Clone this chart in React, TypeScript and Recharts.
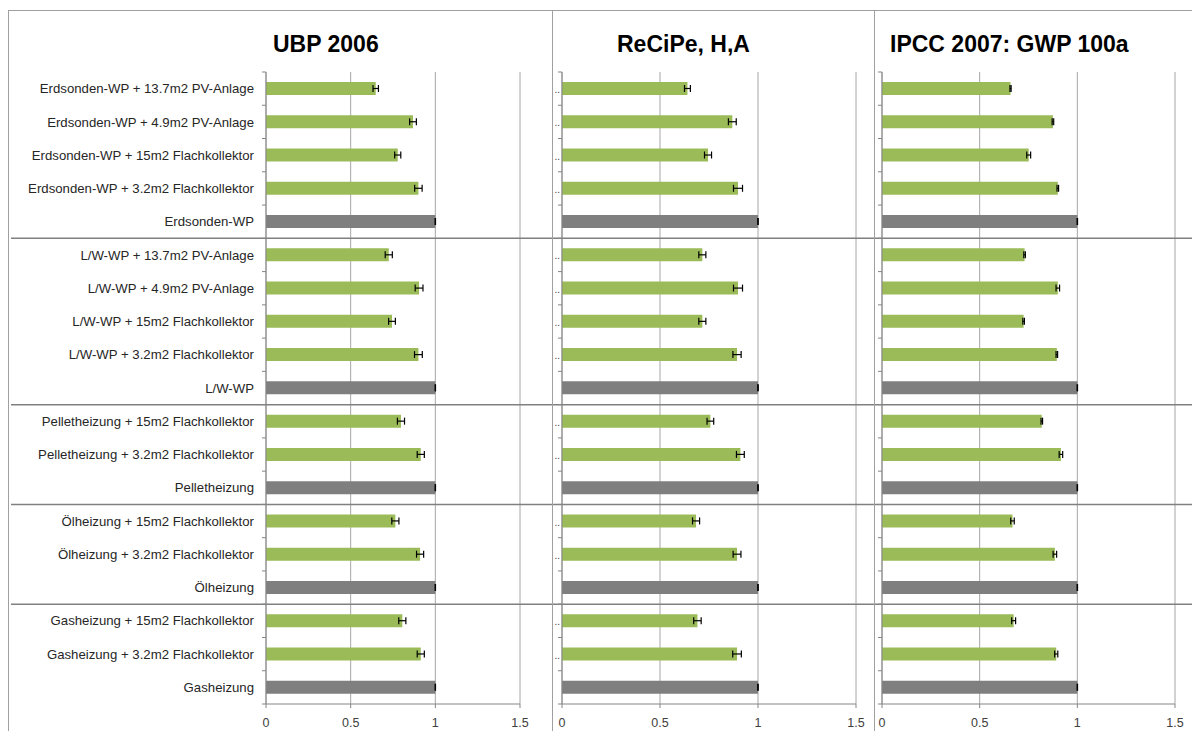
import React from 'react';
import { BarChart, Bar, XAxis, YAxis, CartesianGrid, Cell, ErrorBar, ReferenceLine } from 'recharts';

const categories = [
  'Erdsonden-WP + 13.7m2 PV-Anlage',
  'Erdsonden-WP + 4.9m2 PV-Anlage',
  'Erdsonden-WP + 15m2 Flachkollektor',
  'Erdsonden-WP + 3.2m2 Flachkollektor',
  'Erdsonden-WP',
  'L/W-WP + 13.7m2 PV-Anlage',
  'L/W-WP + 4.9m2 PV-Anlage',
  'L/W-WP + 15m2 Flachkollektor',
  'L/W-WP + 3.2m2 Flachkollektor',
  'L/W-WP',
  'Pelletheizung + 15m2 Flachkollektor',
  'Pelletheizung + 3.2m2 Flachkollektor',
  'Pelletheizung',
  'Ölheizung + 15m2 Flachkollektor',
  'Ölheizung + 3.2m2 Flachkollektor',
  'Ölheizung',
  'Gasheizung + 15m2 Flachkollektor',
  'Gasheizung + 3.2m2 Flachkollektor',
  'Gasheizung',
];

const ubp = [0.648, 0.868, 0.778, 0.9, 1, 0.725, 0.904, 0.744, 0.9, 1, 0.797, 0.914, 1, 0.764, 0.91, 1, 0.805, 0.914, 1];
const ubpErr = [0.016, 0.02, 0.018, 0.022, 0.001, 0.021, 0.023, 0.02, 0.023, 0.001, 0.021, 0.021, 0.001, 0.021, 0.021, 0.001, 0.021, 0.021, 0.001];

const recipe = [0.64, 0.869, 0.745, 0.898, 1, 0.716, 0.898, 0.716, 0.893, 1, 0.757, 0.91, 1, 0.684, 0.893, 1, 0.691, 0.893, 1];
const recipeErr = [0.015, 0.02, 0.018, 0.023, 0.001, 0.018, 0.023, 0.018, 0.021, 0.001, 0.017, 0.02, 0.001, 0.018, 0.02, 0.001, 0.019, 0.022, 0.001];

const ipcc = [0.658, 0.875, 0.751, 0.9, 1, 0.73, 0.9, 0.725, 0.895, 1, 0.818, 0.916, 1, 0.668, 0.885, 1, 0.674, 0.892, 1];
const ipccErr = [0.003, 0.004, 0.01, 0.004, 0.001, 0.004, 0.009, 0.004, 0.004, 0.001, 0.004, 0.009, 0.001, 0.009, 0.009, 0.001, 0.01, 0.008, 0.001];

// last row of each system group
const groupEnds = ['Erdsonden-WP', 'L/W-WP', 'Pelletheizung', 'Ölheizung'];
const xTicks = [0, 0.5, 1, 1.5];

const GREEN = '#9BBB59';
const GREY = '#7F7F7F';
const AXIS = '#868686';
const FONT = '"Liberation Sans", Arial, sans-serif';

const CH = 720;
const TOP = 61;
const XAXIS_H = 24;
const BOTTOM = 3;
const BAND = (CH - TOP - XAXIS_H - BOTTOM) / categories.length;

const CatTick = (props: any) => {
  const { x, y, payload, index, mode } = props;
  const label: string = String(payload?.value ?? '');
  const last = index === categories.length - 1;
  return (
    <g>
      <line x1={x - 4} x2={x} y1={y - BAND / 2} y2={y - BAND / 2} stroke={AXIS} />
      {last && <line x1={x - 4} x2={x} y1={y + BAND / 2} y2={y + BAND / 2} stroke={AXIS} />}
      {mode === 'full' && (
        <text x={x - 12} y={y} dy="0.35em" textAnchor="end" fontSize={13.2} fill="#262626" fontFamily={FONT}>
          {label}
        </text>
      )}
      {mode === 'dots' && label.includes('+') && (
        <text x={x - 2} y={y} dy="0.45em" textAnchor="end" fontSize={10} fill="#404040" fontFamily={FONT}>
          ..
        </text>
      )}
    </g>
  );
};

type PanelProps = {
  title: string;
  titleLeft: number;
  left: number;
  width: number;
  axisW: number;
  right: number;
  values: number[];
  errs: number[];
  mode: 'full' | 'dots' | 'none';
};

const Panel = ({ title, titleLeft, left, width, axisW, right, values, errs, mode }: PanelProps) => {
  const data = categories.map((name, i) => ({ name, value: values[i], err: errs[i] }));
  const sepFrom = left < 100 ? 2 : 0;
  return (
    <>
      <div
        style={{
          position: 'absolute',
          left: left - 9,
          top: 2,
          width,
          height: CH,
          borderLeft: '1px solid #A0A0A0',
          borderTop: '1px solid #A0A0A0',
          background: '#fff',
        }}
      >
        <BarChart
          width={width}
          height={CH}
          data={data}
          layout="vertical"
          barSize={13}
          margin={{ top: TOP, right, bottom: BOTTOM, left: 0 }}
        >
          <CartesianGrid horizontal={false} stroke="#A6A6A6" />
          <XAxis
            type="number"
            domain={[0, 1.5]}
            ticks={xTicks}
            height={XAXIS_H}
            stroke={AXIS}
            tickSize={4}
            tickMargin={10}
            tick={{ fontSize: 12.5, fill: '#404040', fontFamily: FONT }}
          />
          <YAxis
            type="category"
            dataKey="name"
            width={axisW}
            interval={0}
            stroke={AXIS}
            tickLine={false}
            tickSize={0}
            tickMargin={0}
            tick={(p: any) => <CatTick x={p.x} y={p.y} payload={p.payload} index={p.index} mode={mode} />}
          />
          {groupEnds.map((g) => (
            <ReferenceLine
              key={g}
              y={g}
              position="end"
              stroke="#808080"
              shape={(p: any) => (
                <line x1={sepFrom} x2={width + 10} y1={p.y1} y2={p.y2} stroke="#808080" strokeWidth={1.5} />
              )}
            />
          ))}
          <Bar dataKey="value" isAnimationActive={false}>
            {data.map((d) => (
              <Cell key={d.name} fill={d.name.includes('+') ? GREEN : GREY} />
            ))}
            <ErrorBar dataKey="err" direction="x" width={3.5} stroke="#000" strokeWidth={1.2} />
          </Bar>
        </BarChart>
      </div>
      <div
        style={{
          position: 'absolute',
          left: titleLeft - 8,
          top: 25,
          fontFamily: FONT,
          fontWeight: 'bold',
          fontSize: 23,
          lineHeight: '23px',
          color: '#000',
          whiteSpace: 'nowrap',
        }}
      >
        {title}
      </div>
    </>
  );
};

export default function App() {
  return (
    <div style={{ position: 'relative', width: 1192, height: 725 }}>
      <Panel title="UBP 2006" titleLeft={273} left={9} width={544} axisW={257} right={33} values={ubp} errs={ubpErr} mode="full" />
      <Panel title="ReCiPe, H,A" titleLeft={617} left={553} width={322} axisW={9} right={19} values={recipe} errs={recipeErr} mode="dots" />
      <Panel title="IPCC 2007: GWP 100a" titleLeft={890} left={875} width={325} axisW={7} right={25} values={ipcc} errs={ipccErr} mode="none" />
    </div>
  );
}
